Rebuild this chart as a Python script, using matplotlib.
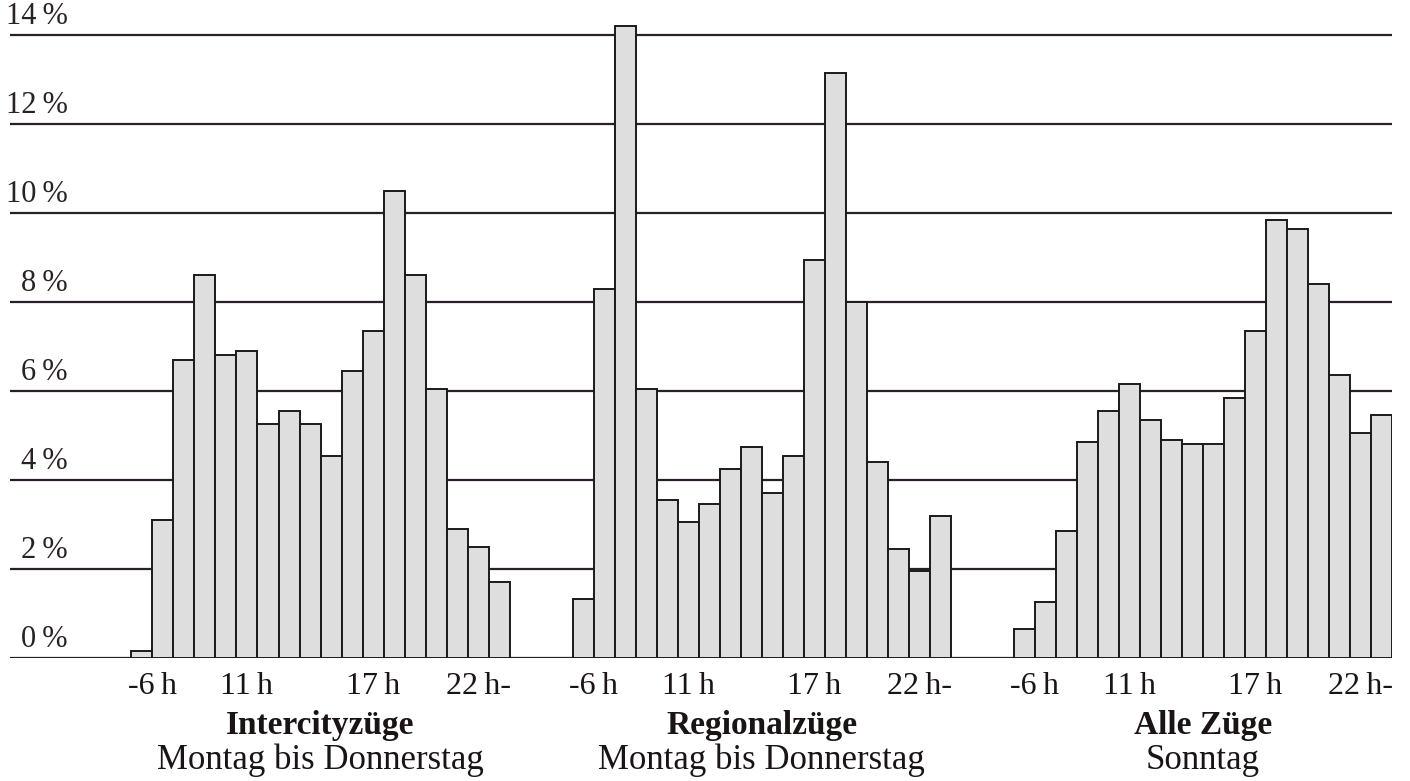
import numpy as np
import matplotlib
matplotlib.use("Agg")
import matplotlib.pyplot as plt

# share of trains per hour slot (%)
hours = ["-6", "6", "7", "8", "9", "10", "11", "12", "13", "14",
         "15", "16", "17", "18", "19", "20", "21", "22-"]
intercity = [0.15, 3.1, 6.7, 8.6, 6.8, 6.9, 5.25, 5.55, 5.25, 4.55,
             6.45, 7.35, 10.5, 8.6, 6.05, 2.9, 2.5, 1.7]
regional = [1.33, 8.3, 14.2, 6.05, 3.55, 3.05, 3.45, 4.25, 4.75, 3.7,
            4.55, 8.95, 13.15, 8.0, 4.4, 2.45, 1.95, 3.2]
alle_sonntag = [0.65, 1.25, 2.85, 4.85, 5.55, 6.15, 5.35, 4.9, 4.8, 4.8,
                5.85, 7.35, 9.85, 9.65, 8.4, 6.35, 5.05, 5.45]

groups = [intercity, regional, alle_sonntag]
titles = ["Intercityzüge", "Regionalzüge", "Alle Züge"]
subtitles = ["Montag bis Donnerstag", "Montag bis Donnerstag", "Sonntag"]
tick_pos = [1.0, 5.5, 11.5, 16.5]
tick_labels = ["-6\u2009h", "11\u2009h", "17\u2009h", "22\u2009h-"]
y_ticks = [0, 2, 4, 6, 8, 10, 12, 14]

plt.rcParams['font.family'] = ['Liberation Serif', 'DejaVu Serif']
ink = '#2a1e2a'

fig = plt.figure(figsize=(14.10, 7.81), dpi=100)
ax = fig.add_axes([10 / 1410, 123 / 781, 1382 / 1410, 649.7 / 781])

xt, xl = [], []
for g, vals in enumerate(groups):
    off = g * 21
    x = np.arange(len(vals)) + off + 0.5
    ax.bar(x, vals, width=1.0, facecolor='#dedede', edgecolor='#1a1a1a',
           linewidth=1.4, zorder=3)
    xt += [off + p for p in tick_pos]
    xl += tick_labels
    cx = off + len(vals) / 2
    ax.text(cx, -0.104, titles[g], transform=ax.get_xaxis_transform(),
            ha='center', va='center', fontsize=24, fontweight='bold', color='#1a1414')
    ax.text(cx, -0.157, subtitles[g], transform=ax.get_xaxis_transform(),
            ha='center', va='center', fontsize=25, color='#1a1414')

ax.set_xlim(-5.78, 60)
ax.set_ylim(0, 14.6)
ax.set_yticks(y_ticks)
ax.yaxis.grid(True, color=ink, linewidth=1.6)
ax.set_axisbelow(True)
for v in y_ticks:
    ax.text(-3.03, v + 0.42, f"{v}\u2009%", ha='right', va='center',
            fontsize=22, color='#2a2222')

ax.set_xticks(xt)
ax.set_xticklabels(xl, fontsize=23, color='#1a1414')
ax.tick_params(axis='x', length=0, pad=10)
ax.tick_params(axis='y', left=False, labelleft=False)
for s in ax.spines.values():
    s.set_visible(False)

fig.savefig("out.png", dpi=100, facecolor='white')
